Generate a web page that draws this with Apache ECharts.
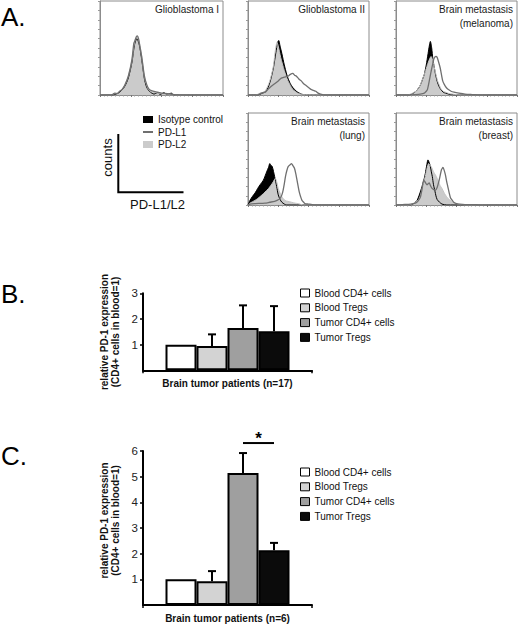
<!DOCTYPE html>
<html>
<head>
<meta charset="utf-8">
<script src="https://cdn.jsdelivr.net/npm/echarts@6/dist/echarts.min.js"></script>
<style>
html,body{margin:0;padding:0;background:#fff;}
#chart{width:519px;height:624px;}
</style>
</head>
<body>
<div id="chart"></div>
<script>
// ---------------- DATA ----------------
// Panel A: flow cytometry histograms, x = fluorescence position (0-100 across the plot), y = % of max counts
const histTitles = [
  ['Glioblastoma I'],
  ['Glioblastoma II'],
  ['Brain metastasis', '(melanoma)'],
  ['Brain metastasis', '(lung)'],
  ['Brain metastasis', '(breast)']
];
const histLegend = ['Isotype control', 'PD-L1', 'PD-L2'];

const gbm1Isotype = [[0,0],[10,0],[16,3],[20,9],[23,18],[26,35],[28,53],[30,60],[32,53],[34,37],[36,18],[38,8],[41,3],[44,1],[47,2.5],[49,0.5],[52,2.5],[54,0.5],[58,2],[60,0],[100,0]];
const gbm1PDL2 = [[0,0],[8,0],[11,1],[14,2],[16,4],[18,6],[20,10],[23,20],[26,37],[28,56],[30,62],[32,56],[34,40],[36,20],[38,10],[40,5],[43,3],[47,2],[52,1],[57,1],[62,0],[100,0]];
const gbm1PDL1 = [[0,0],[10,0.5],[12,2],[14,1.5],[16,4],[18,6],[20,10],[23,20],[26,38],[27.5,55],[28.5,58],[29.5,62],[30.5,63],[31.5,59],[32,55],[34,40],[36,21],[38,11],[40,6],[43,4],[47,3],[50,2],[55,1.5],[60,0.5],[70,0],[100,0]];

const gbm2Isotype = [[0,0],[8,0],[12,2],[15,4],[18,13],[21,29],[23,45],[24.5,56],[25.4,58],[26.5,52],[28,44],[30,32],[32,22],[33,18],[35,12],[37,8],[40,4],[44,1],[48,0],[100,0]];
const gbm2PDL2 = [[0,0],[6,0],[10,2],[14,4],[18,15],[21,31],[22.5,47],[24,56],[25,52],[27,40],[30,26],[33,15],[37,6],[41,2],[45,0.5],[50,0],[100,0]];
const gbm2PDL1 = [[0,0],[8,0],[11,2],[14,3],[16.5,6],[19,9],[22,12],[25,15],[27.5,18],[30,19],[33,20],[35,22],[37,23],[38.5,21],[40,20],[42,17],[44,15],[46,12],[48,10],[50,8],[52,6],[54,5],[56,4],[58,2],[60,1],[64,0],[100,0]];

const melIsotype = [[0,0],[10,0],[13,1],[16.5,4],[19,8],[20.6,12],[22,17],[23.4,22],[25,32],[26.5,44],[27.5,52],[28.4,57],[29.5,50],[30.5,38],[31.7,29],[33,20],[34.4,13],[36,8],[37,6],[39,3],[41,2],[45,0.5],[50,0],[100,0]];
const melPDL2 = [[0,0],[9,0],[12,1],[16.5,4],[19,8],[20.6,12],[22.5,19],[24.5,26],[26.5,34],[28,39],[29,41],[30.5,36],[31.7,29],[33,22],[34.4,15],[36,10],[37,7],[39,4],[41,3],[44,1.5],[47,1],[52,0],[100,0]];
const melPDL1 = [[0,0],[10,0],[16,0.5],[20,1],[23.4,2],[25,4],[26,6],[27.5,15],[29,25],[30.5,34],[31.5,39],[33,41],[34,40],[35,36],[36.5,29],[38.6,15],[40,11],[41.5,8],[43,6],[45.5,4],[48,3],[52,2],[57,1],[63,0.5],[70,0],[100,0]];

const lungIsotype = [[0,0],[1,3],[1.6,5],[3.5,9],[5.8,13],[8,18],[10,22],[12.7,27],[15.4,36],[17,41],[18,45],[19,43],[20,42],[22,31],[23.7,20],[25,11],[26.5,6],[28,3],[30,1],[32,0],[100,0]];
const lungPDL2 = [[0,0],[1.6,2],[5.8,5],[8,7],[11.6,11],[14,14],[17,18],[20.8,25],[22.6,29],[24,24],[25,18],[26.5,13],[28,9],[30.6,5],[33,4],[36,3],[39,2],[41.6,1.5],[45.6,0],[100,0]];
const lungPDL1 = [[0,0],[1.6,1],[6,1.5],[14,2],[18,3],[22,4],[24,5],[26.4,7],[28,11],[29,16],[30,23],[31,31],[32,37],[33.3,42],[35,44],[36,45],[37,43],[38.4,40],[39.5,34],[40.5,27],[41.5,20],[42.4,14],[43.5,9],[44.6,5],[46,3],[47,1.5],[50,1],[53,0.5],[60,0],[100,0]];

const brIsotype = [[0,0],[12,0],[15,2],[17.4,5],[19.5,12],[21.5,20],[23,27],[24.2,34],[25.5,44],[26.4,49],[27.5,46],[28.4,42],[29.2,36],[30,31],[31,22],[32.2,15],[33,10],[34,6],[36,3],[38,1],[42,0],[100,0]];
const brPDL2 = [[0,0],[10,0],[13,1],[16,3],[18.7,6],[20.5,12],[22,20],[23,25],[24.2,31],[25.5,39],[27,45],[28.4,43],[29.8,40],[31,36],[32.5,33],[34,29],[35.3,25],[36.5,21],[38,18],[39.5,14],[40.8,11],[43,7],[44.9,5],[47,3],[49,2],[52,1],[54.5,0.5],[58,0],[100,0]];
const brPDL1 = [[0,0],[5,0.5],[12,1],[16,2],[18,4],[20,8],[21.5,17],[22.9,27],[24,25],[25.6,22],[26.5,23],[27.5,24],[28.5,21],[29.8,18],[31,17],[32.5,16],[34,19],[35.3,25],[36.5,32],[37.5,38],[38.3,40],[38.8,41],[39.5,39],[40.8,33],[41.8,26],[42.8,20],[44,13],[45,8],[46.5,5],[47.7,3],[50,1.5],[52,1],[57,0.5],[63,0.5],[70,0],[100,0]];

const histIsotype = [gbm1Isotype, gbm2Isotype, melIsotype, lungIsotype, brIsotype];
const histPDL1 = [gbm1PDL1, gbm2PDL1, melPDL1, lungPDL1, brPDL1];
const histPDL2 = [gbm1PDL2, gbm2PDL2, melPDL2, lungPDL2, brPDL2];

// Panels B and C: relative PD-1 expression
const cellGroups = ['Blood CD4+ cells', 'Blood Tregs', 'Tumor CD4+ cells', 'Tumor Tregs'];
const yTitleLines = ['relative PD-1 expression', '(CD4+ cells in blood=1)'];
const bGroupLabel = 'Brain tumor patients (n=17)';
const bMean = [1.0, 0.95, 1.65, 1.52];
const bSem  = [0, 0.45, 0.88, 0.98];
const cGroupLabel = 'Brain tumor patients (n=6)';
const cMean = [1.0, 0.93, 5.14, 2.13];
const cSem  = [0, 0.39, 0.78, 0.29];
const cSignificance = [{from: 2, to: 3, level: 6.31, label: '*'}];

// ---------------- STYLE / LAYOUT ----------------
const FONT = '"Liberation Sans", Arial, sans-serif';
const barColors = ['#ffffff', '#d3d3d3', '#9f9f9f', '#0b0b0b'];
const BAR_W = 31;
const histGrids = [
  {left: 100, top: 1, width: 123, height: 94},
  {left: 248, top: 1, width: 121, height: 94},
  {left: 396, top: 1, width: 121, height: 94},
  {left: 248, top: 113, width: 121, height: 92},
  {left: 396, top: 113, width: 121, height: 92}
];
const barGrids = [
  {left: 143, top: 293.3, width: 169, height: 77},
  {left: 143, top: 451, width: 169, height: 154}
];

const grids = [], xAxes = [], yAxes = [], series = [], graphics = [];

histGrids.forEach((g, i) => {
  grids.push(Object.assign({show: true, borderColor: '#8c8c8c', borderWidth: 1, backgroundColor: '#fff'}, g));
  xAxes.push({
    type: 'value', gridIndex: i, min: 0, max: 100, interval: 25,
    axisLine: {show: true, lineStyle: {color: '#8c8c8c', width: 1}},
    axisTick: {show: true, length: 2, lineStyle: {color: '#777'}},
    minorTick: {show: true, splitNumber: 8, length: 1.5, lineStyle: {color: '#999'}},
    axisLabel: {show: false}, splitLine: {show: false}
  });
  yAxes.push({
    type: 'value', gridIndex: i, min: 0, max: 100, interval: 10,
    axisLine: {show: true, lineStyle: {color: '#8c8c8c', width: 1}},
    axisTick: {show: true, length: 2, lineStyle: {color: '#999'}},
    axisLabel: {show: false}, splitLine: {show: false}
  });
  series.push({
    type: 'line', name: histLegend[0], xAxisIndex: i, yAxisIndex: i, data: histIsotype[i],
    showSymbol: false, symbol: 'none', smooth: 0.25,
    itemStyle: {color: '#000'}, lineStyle: {color: '#000', width: 1}, areaStyle: {color: '#000', opacity: 1}
  });
  series.push({
    type: 'line', name: histLegend[2], xAxisIndex: i, yAxisIndex: i, data: histPDL2[i],
    showSymbol: false, symbol: 'none', smooth: 0.25,
    itemStyle: {color: '#cbcbcb'}, lineStyle: {color: '#c4c4c4', width: 1}, areaStyle: {color: '#cbcbcb', opacity: 1}
  });
  series.push({
    type: 'line', name: histLegend[1], xAxisIndex: i, yAxisIndex: i, data: histPDL1[i],
    showSymbol: false, symbol: 'none', smooth: 0.25,
    itemStyle: {color: '#6f6f6f'}, lineStyle: {color: '#6f6f6f', width: 1.3}
  });
  const right = g.left + g.width - 4;
  histTitles[i].forEach((t, k) => {
    graphics.push({type: 'text', x: right, y: g.top + 8 + k * 14.5,
      style: {text: t, align: 'right', verticalAlign: 'middle', fontSize: 10, fontFamily: FONT, fill: '#1a1a1a'}});
  });
});

function errRender(params, api) {
  const idx = api.value(3);
  const base = api.coord([api.value(0), api.value(1)]);
  const top = api.coord([api.value(0), api.value(2)]);
  const x = base[0] + (idx - 1.5) * BAR_W;
  return {type: 'group', children: [
    {type: 'line', shape: {x1: x, y1: base[1], x2: x, y2: top[1]}, style: {stroke: '#000', lineWidth: 2}},
    {type: 'line', shape: {x1: x - 4, y1: top[1], x2: x + 4, y2: top[1]}, style: {stroke: '#000', lineWidth: 2}}
  ]};
}
function sigRender(params, api) {
  const p = api.coord([api.value(0), api.value(1)]);
  const x1 = p[0] + (api.value(2) - 1.5) * BAR_W;
  const x2 = p[0] + (api.value(3) - 1.5) * BAR_W;
  return {type: 'group', children: [
    {type: 'line', shape: {x1: x1, y1: p[1], x2: x2, y2: p[1]}, style: {stroke: '#000', lineWidth: 2}},
    {type: 'text', x: (x1 + x2) / 2, y: p[1] - 5, style: {text: cSignificance[0].label, align: 'center', verticalAlign: 'middle', fontSize: 17, fontWeight: 'bold', fontFamily: FONT, fill: '#000'}}
  ]};
}

const barPanels = [
  {label: bGroupLabel, mean: bMean, sem: bSem, max: 3},
  {label: cGroupLabel, mean: cMean, sem: cSem, max: 6}
];
barPanels.forEach((p, j) => {
  const gi = 5 + j;
  const g = barGrids[j];
  grids.push(Object.assign({show: false}, g));
  xAxes.push({
    type: 'category', gridIndex: gi, data: [p.label], boundaryGap: true,
    name: p.label, nameLocation: 'middle', nameGap: 8,
    nameTextStyle: {fontSize: 10, fontWeight: 'bold', fontFamily: FONT, color: '#111', verticalAlign: 'top'},
    axisLine: {show: true, lineStyle: {color: '#000', width: 2}},
    axisTick: {show: true, length: 3, lineStyle: {color: '#000', width: 1.5}},
    axisLabel: {show: false}, splitLine: {show: false}
  });
  yAxes.push({
    type: 'value', gridIndex: gi, min: 0, max: p.max, interval: 1,
    axisLine: {show: true, lineStyle: {color: '#000', width: 2}},
    axisTick: {show: true, length: 3, lineStyle: {color: '#000', width: 1.5}},
    axisLabel: {fontSize: 11.5, fontFamily: FONT, color: '#222', margin: 5, showMinLabel: false},
    splitLine: {show: false}
  });
  cellGroups.forEach((name, i) => {
    series.push({
      type: 'bar', name: name, xAxisIndex: gi, yAxisIndex: gi, data: [p.mean[i]],
      barWidth: BAR_W, barGap: '0%', animation: false,
      itemStyle: {color: barColors[i], borderColor: '#000', borderWidth: 2}
    });
  });
  const errData = [];
  p.mean.forEach((m, i) => { if (p.sem[i] > 0) errData.push([0, m, m + p.sem[i], i]); });
  series.push({type: 'custom', xAxisIndex: gi, yAxisIndex: gi, renderItem: errRender, data: errData, z: 5, clip: false});
  const cy = j === 0 ? 332 : 520.5;
  graphics.push({type: 'text', x: 109.5, y: cy, rotation: Math.PI / 2,
    style: {text: yTitleLines.join('\n'), align: 'center', verticalAlign: 'middle', fontSize: 10, fontWeight: 'bold', lineHeight: 11, fontFamily: FONT, fill: '#111'}});
});
series.push({type: 'custom', xAxisIndex: 6, yAxisIndex: 6, renderItem: sigRender, clip: false, z: 6,
  data: cSignificance.map(s => [0, s.level, s.from, s.to])});

// Panel labels and schematic axes
[['A.', 17], ['B.', 293.5], ['C.', 456]].forEach(([t, y]) => {
  graphics.push({type: 'text', x: 1, y: y, style: {text: t, align: 'left', verticalAlign: 'middle', fontSize: 26, fontFamily: FONT, fill: '#000'}});
});
graphics.push({type: 'polyline', shape: {points: [[118.3, 134], [118.3, 192.3], [183.5, 192.3]]}, style: {stroke: '#000', lineWidth: 2, fill: null}});
graphics.push({type: 'text', x: 107, y: 157.5, rotation: Math.PI / 2, style: {text: 'counts', align: 'center', verticalAlign: 'middle', fontSize: 13, fontFamily: FONT, fill: '#111'}});
graphics.push({type: 'text', x: 157.5, y: 204, style: {text: 'PD-L1/L2', align: 'center', verticalAlign: 'middle', fontSize: 13, fontFamily: FONT, fill: '#111'}});

const legendText = {fontSize: 10, fontFamily: FONT, color: '#111', lineHeight: 10};
const option = {
  animation: false,
  backgroundColor: '#fff',
  grid: grids, xAxis: xAxes, yAxis: yAxes, series: series,
  legend: [
    {orient: 'vertical', left: 143, top: 114.5, padding: 0, itemWidth: 10, itemHeight: 7, itemGap: 2.5, selectedMode: false,
      textStyle: legendText, itemStyle: {borderWidth: 0},
      data: [{name: histLegend[0], icon: 'rect'}, {name: histLegend[1], icon: 'path://M0,0 L10,0 L10,2 L0,2 Z'}, {name: histLegend[2], icon: 'rect'}]},
    {orient: 'vertical', left: 300, top: 288, padding: 0, itemWidth: 9, itemHeight: 8, itemGap: 4.8, selectedMode: false,
      textStyle: legendText, itemStyle: {borderWidth: 1, borderColor: '#000'},
      data: cellGroups.map(n => ({name: n, icon: 'rect'}))},
    {orient: 'vertical', left: 300, top: 467, padding: 0, itemWidth: 9, itemHeight: 8, itemGap: 4.8, selectedMode: false,
      textStyle: legendText, itemStyle: {borderWidth: 1, borderColor: '#000'},
      data: cellGroups.map(n => ({name: n, icon: 'rect'}))}
  ],
  graphic: graphics
};
const chart = echarts.init(document.getElementById('chart'), null, {renderer: 'svg'});
chart.setOption(option);
</script>
</body>
</html>
